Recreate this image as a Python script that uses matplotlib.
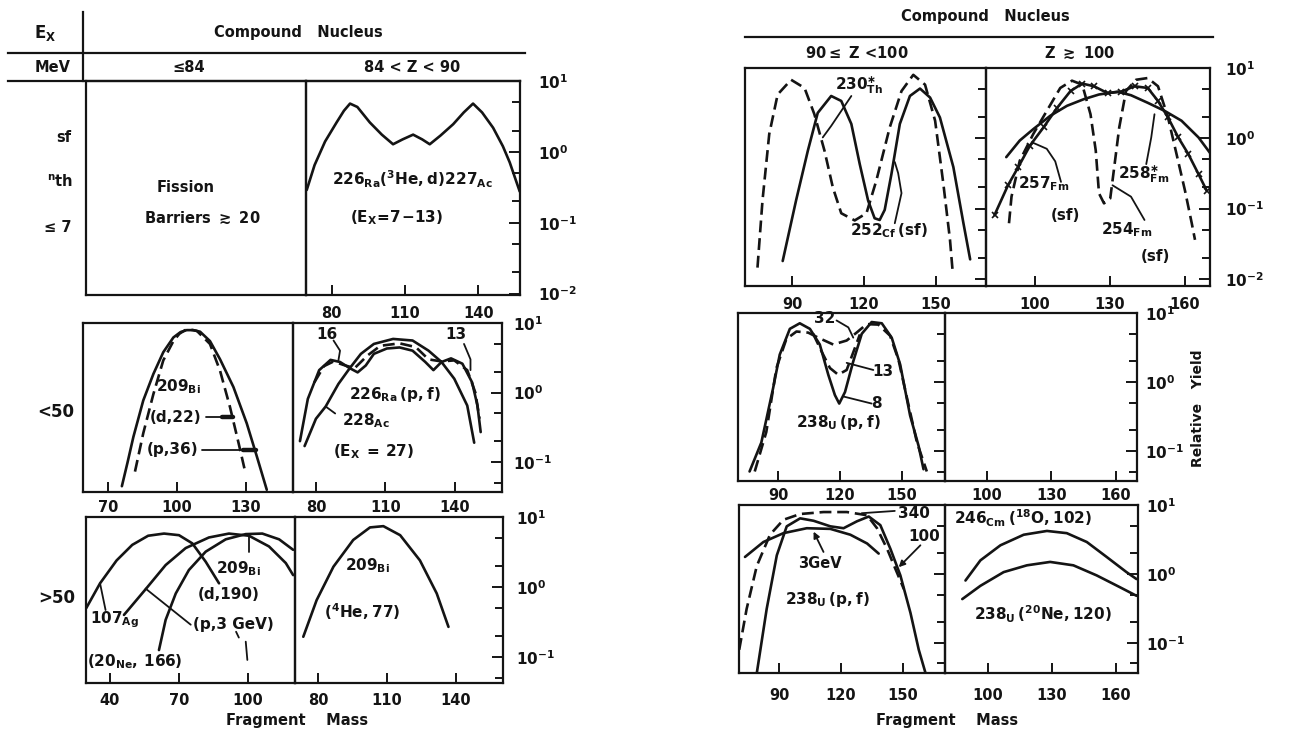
import matplotlib
matplotlib.use("Agg")
import numpy as np
import matplotlib.pyplot as plt
from matplotlib.lines import Line2D
from matplotlib.ticker import (FixedLocator, LogLocator, FuncFormatter,
                               NullFormatter, NullLocator)

# ---------------------------------------------------------------- data
# Compound nucleus 84 < Z < 90, E_X <= 7 : 226Ra(3He,d)227Ac
ra226_he3d_mass = [69.8, 73.0, 77.3, 82.0, 85.0, 87.5, 90.5, 95.6, 100.5, 105.1, 109.0, 113.3,
                   117.0, 120.1, 124.5, 129.7, 134.0, 137.8, 141.5, 146.0, 150.0, 152.8, 156.9]
ra226_he3d_yield = [0.29, 0.65, 1.4, 2.6, 3.8, 4.8, 4.3, 2.6, 1.75, 1.28, 1.5, 1.75,
                    1.5, 1.28, 1.7, 2.46, 3.6, 4.8, 3.6, 2.19, 1.2, 0.71, 0.275]

# Z <= 84, E_X < 50 : 209Bi(p,36) solid, 209Bi(d,22) dashed
bi209_p36_mass = [76.0, 78.5, 81.0, 85.3, 89.7, 94.0, 98.4, 101.5, 104.2, 107.0, 110.0, 114.3,
                  118.7, 124.5, 130.3, 134.7, 139.0]
bi209_p36_yield = [0.045, 0.10, 0.23, 0.77, 1.85, 3.8, 6.2, 7.4, 7.9, 7.9, 7.5, 5.5,
                   3.0, 1.2, 0.36, 0.12, 0.04]
bi209_d22_mass = [81.7, 85.3, 89.7, 94.0, 98.4, 101.0, 103.5, 106.0, 108.6, 114.3, 118.7,
                  123.0, 126.7, 129.6]
bi209_d22_yield = [0.073, 0.26, 0.95, 2.9, 5.5, 7.0, 7.9, 8.0, 7.7, 5.0, 2.05,
                   0.62, 0.19, 0.073]

# 84 < Z < 90, E_X < 50 : 228Ac (E_X = 27) and 226Ra(p,f)
ac228_mass = [75.1, 80.0, 84.2, 89.7, 94.6, 99.4, 105.0, 113.3, 121.7, 128.6, 134.2, 139.7,
              145.3, 148.3]
ac228_yield = [0.17, 0.42, 0.63, 1.33, 2.24, 3.6, 5.0, 5.9, 5.6, 4.0, 2.75, 1.58, 0.65, 0.19]
ra226_pf_mass = [73.1, 76.5, 81.4, 86.3, 90.4, 94.6, 98.0, 101.5, 105.0, 110.6, 116.1, 121.7,
                 127.2, 130.7, 134.2, 138.3, 143.2, 147.4, 149.7, 151.1]
ra226_pf_yield = [0.20, 0.81, 2.1, 2.95, 2.75, 2.24, 1.95, 2.45, 3.6, 4.3, 4.45, 4.0,
                  2.75, 2.1, 2.75, 3.1, 2.6, 1.4, 0.65, 0.27]
ra226_pf_b_mass = [79.3, 83.5, 87.6, 91.8, 96.7, 102.2, 107.8, 116.1, 123.1, 128.6, 134.2,
                   139.7, 145.3, 148.8, 150.6]
ra226_pf_b_yield = [1.4, 2.4, 2.8, 2.5, 2.24, 3.4, 4.7, 5.1, 4.5, 3.0, 2.8,
                    2.9, 2.1, 1.0, 0.42]

# Z <= 84, E_X > 50 : 107Ag(20Ne,166), 209Bi(p,3 GeV), 209Bi(d,190)
ag107_mass = [29.7, 35.7, 42.9, 49.7, 56.6, 63.5, 70.0, 75.8, 81.6, 87.4]
ag107_yield = [0.50, 1.13, 2.4, 4.0, 5.4, 5.8, 5.5, 4.2, 2.3, 1.13]
bi209_p3gev_mass = [46.1, 55.5, 64.2, 72.9, 83.0, 91.7, 100.4, 109.1, 116.4, 119.6]
bi209_p3gev_yield = [0.40, 0.93, 2.06, 3.6, 5.1, 5.8, 5.4, 3.8, 2.2, 1.48]
bi209_d190_mass = [61.3, 64.2, 68.6, 74.3, 81.6, 90.3, 99.0, 106.2, 113.5, 119.6]
bi209_d190_yield = [0.126, 0.34, 0.81, 1.75, 3.2, 4.8, 5.7, 5.8, 4.8, 3.4]

# 84 < Z < 90, E_X > 50 : 209Bi(4He,77)
bi209_he77_mass = [73.6, 79.4, 86.7, 95.3, 102.6, 108.4, 115.7, 124.3, 131.6, 136.7]
bi209_he77_yield = [0.195, 0.65, 1.95, 4.7, 7.1, 7.4, 5.5, 2.4, 0.81, 0.27]

# 90 <= Z < 100, low E_X : 230Th* (dashed), 252Cf(sf) (solid)
th230_mass = [75.6, 77.7, 80.5, 84.0, 89.6, 95.2, 99.3, 103.5, 107.0, 110.5, 116.1, 121.0,
              125.1, 130.7, 135.6, 140.5, 145.4, 149.6, 153.0, 155.8, 157.0]
th230_yield = [0.0145, 0.132, 1.15, 4.2, 6.8, 5.2, 2.2, 0.67, 0.20, 0.086, 0.068, 0.086,
               0.25, 1.43, 4.7, 8.0, 5.8, 1.78, 0.23, 0.036, 0.0117]
cf252_mass = [86.1, 91.7, 96.6, 100.7, 106.3, 110.5, 114.7, 118.2, 121.7, 124.4, 126.5, 128.6,
              131.4, 134.9, 139.1, 143.3, 147.5, 151.6, 157.2, 161.4, 164.2]
cf252_yield = [0.018, 0.132, 0.67, 2.3, 4.0, 3.4, 1.6, 0.43, 0.13, 0.073, 0.069, 0.096,
               0.31, 1.6, 4.0, 5.1, 3.8, 1.98, 0.39, 0.062, 0.019]

# Z >= 100, low E_X : 257Fm(sf) (crossed), 258Fm* (solid), 254Fm(sf) (dashed)
fm257_mass = [83.8, 89.2, 93.3, 98.0, 103.4, 108.8, 114.2, 118.9, 123.6, 129.0, 134.4, 139.8,
              145.1, 149.2, 153.2, 157.3, 161.3, 165.4, 168.7]
fm257_yield = [0.081, 0.215, 0.39, 0.79, 1.43, 2.7, 4.7, 6.0, 5.5, 4.4, 4.6, 5.5,
               5.2, 3.4, 1.98, 1.03, 0.60, 0.31, 0.18]
fm258_mass = [88.5, 93.9, 99.3, 106.1, 112.8, 119.5, 125.6, 133.0, 138.4, 145.1, 151.9, 158.6,
              165.4, 170.0]
fm258_yield = [0.54, 0.93, 1.35, 2.09, 2.9, 3.6, 4.2, 4.6, 4.1, 3.2, 2.45, 1.78, 1.03, 0.62]
fm254_mass = [89.6, 90.6, 93.9, 99.3, 104.7, 110.1, 114.8, 118.9, 122.2, 124.3, 125.6, 127.6,
              130.1, 131.7, 133.7, 136.4, 140.4, 145.1, 149.2, 153.2, 156.6, 160.0, 162.7, 164.0]
fm254_yield = [0.062, 0.148, 0.48, 1.15, 2.45, 5.2, 6.6, 5.8, 2.2, 0.67, 0.165, 0.119,
               0.14, 0.39, 1.43, 4.7, 6.8, 7.2, 5.5, 1.98, 0.60, 0.18, 0.062, 0.036]

# 90 <= Z < 100, E_X < 50 : 238U(p,f) at 8, 13 and 32 MeV
u238_p8_mass = [76.2, 81.9, 87.6, 90.8, 95.7, 100.5, 105.4, 110.2, 114.3, 117.5, 119.6, 122.4,
                126.4, 130.5, 135.3, 140.2, 145.0, 149.1, 153.9, 158.0, 160.4]
u238_p8_yield = [0.051, 0.134, 0.82, 2.5, 5.9, 7.1, 5.9, 3.5, 1.28, 0.65, 0.49, 0.72,
                 2.0, 5.0, 7.4, 7.1, 4.4, 1.8, 0.33, 0.12, 0.055]
u238_p13_mass = [107.0, 111.0, 115.1, 119.1, 123.2, 126.4, 129.6]
u238_p13_yield = [5.0, 2.8, 1.6, 1.28, 1.5, 2.7, 4.9]
u238_p32_mass = [78.7, 84.3, 89.2, 94.0, 98.9, 104.6, 109.4, 116.7, 123.2, 128.0, 132.9, 138.5,
                 144.2, 148.3, 153.2, 157.2, 162.0]
u238_p32_yield = [0.051, 0.19, 1.6, 4.2, 5.4, 5.2, 4.4, 3.5, 4.0, 5.2, 6.9, 6.8,
                  4.7, 2.1, 0.46, 0.135, 0.051]

# 90 <= Z < 100, E_X > 50 : 238U(p,f) at 100 MeV, 340 MeV and 3 GeV
u238_p100_mass = [79.2, 84.0, 88.9, 93.7, 100.2, 106.7, 114.8, 121.2, 127.7, 133.4, 139.0,
                  143.9, 148.7, 153.6, 157.6, 160.9]
u238_p100_yield = [0.036, 0.31, 1.86, 4.9, 6.4, 5.9, 4.9, 4.6, 5.8, 6.8, 5.1,
                   2.3, 0.95, 0.27, 0.079, 0.036]
u238_p340_mass = [70.7, 74.3, 79.2, 85.6, 92.1, 100.2, 111.5, 122.8, 132.6, 137.4, 142.3,
                  146.3, 150.4]
u238_p340_yield = [0.079, 0.31, 1.3, 3.7, 6.1, 7.4, 7.9, 7.9, 7.1, 4.6, 2.3, 1.18, 0.60]
u238_p3gev_mass = [73.5, 82.4, 92.1, 103.4, 114.8, 124.5, 132.6, 138.2]
u238_p3gev_yield = [1.76, 2.9, 3.9, 4.6, 4.5, 3.7, 2.76, 1.97]

# Z >= 100, E_X > 50 : 246Cm(18O,102) and 238U(20Ne,120)
cm246_o18_mass = [89.4, 96.4, 105.8, 116.7, 127.6, 136.9, 146.3, 155.6, 164.9, 169.6]
cm246_o18_yield = [0.80, 1.57, 2.6, 3.7, 4.2, 3.9, 2.9, 1.76, 1.06, 0.84]
u238_ne20_mass = [87.9, 96.4, 107.3, 118.2, 129.1, 140.0, 150.9, 161.8, 169.6]
u238_ne20_yield = [0.43, 0.67, 1.06, 1.33, 1.49, 1.33, 0.95, 0.64, 0.48]

# ---------------------------------------------------------------- style
INK = "#141414"
plt.rcParams.update({
    "font.family": "DejaVu Sans",
    "font.weight": "bold",
    "font.size": 10,
    "mathtext.fontset": "custom",
    "mathtext.rm": "DejaVu Sans:bold",
    "mathtext.it": "DejaVu Sans:bold",
    "mathtext.bf": "DejaVu Sans:bold",
    "mathtext.sf": "DejaVu Sans:bold",
    "axes.linewidth": 1.6,
})

W, H = 1297, 730
fig = plt.figure(figsize=(W / 100, H / 100), dpi=100)
fig.patch.set_facecolor("white")


def box_frac(x0, y0, x1, y1):
    return [x0 / W, 1 - y1 / H, (x1 - x0) / W, (y1 - y0) / H]


def decade_label(v, _pos):
    return r"$10^{%d}$" % int(round(np.log10(v)))


def make_panel(box, xlim=(0, 1), ybot=-2, xticks=None, xpad=6, yaxis="none", ypad=10):
    ax = fig.add_axes(box_frac(*box))
    ax.set_yscale("log")
    ax.set_xlim(*xlim)
    ax.set_ylim(10 ** ybot, 10)
    ax.set_facecolor("none")
    for s in ax.spines.values():
        s.set_linewidth(1.6)
        s.set_color(INK)
    if xticks:
        ax.xaxis.set_major_locator(FixedLocator(xticks))
        ax.tick_params(axis="x", which="major", direction="in", length=7, width=1.4,
                       pad=xpad, labelsize=10.5, colors=INK, top=False)
    else:
        ax.set_xticks([])
    ax.xaxis.set_minor_locator(NullLocator())
    if yaxis == "none":
        ax.tick_params(axis="y", which="both", left=False, right=False,
                       labelleft=False, labelright=False)
    else:
        ax.yaxis.set_major_locator(LogLocator(base=10, numticks=10))
        ax.yaxis.set_minor_locator(LogLocator(base=10, subs=(2.0, 5.0), numticks=10))
        ax.yaxis.set_major_formatter(FuncFormatter(decade_label))
        ax.yaxis.set_minor_formatter(NullFormatter())
        ax.tick_params(axis="y", which="both", direction="in", left=False, right=True,
                       labelleft=False, labelright=(yaxis == "labels"), colors=INK)
        ax.tick_params(axis="y", which="major", length=8, width=1.4, pad=ypad, labelsize=11)
        ax.tick_params(axis="y", which="minor", length=5.5, width=1.4)
    return ax


def curve(ax, mass, yld, dashed=False, **kw):
    ls = (0, (4.5, 2.2)) if dashed else "-"
    ax.plot(mass, yld, color=INK, lw=1.9, linestyle=ls, solid_joinstyle="round",
            solid_capstyle="round", **kw)


def lead(ax, xs, ys, lw=1.3):
    ax.plot(xs, ys, color=INK, lw=lw, solid_capstyle="round", solid_joinstyle="round")


def arrow(ax, start, end):
    ax.annotate("", xy=end, xytext=start,
                arrowprops=dict(arrowstyle="-|>", lw=1.3, color=INK, mutation_scale=9,
                                shrinkA=0, shrinkB=0))


def tag(ax, x, y, s, size=10.5, ha="center", va="center"):
    ax.text(x, y, s, fontsize=size, ha=ha, va=va, color=INK, fontweight="bold")


def ftext(x, y, s, size=10.5, ha="center", va="center", **kw):
    fig.text(x / W, 1 - y / H, s, fontsize=size, ha=ha, va=va, color=INK,
             fontweight="bold", **kw)


def fline(x0, y0, x1, y1, lw=1.6):
    fig.add_artist(Line2D([x0 / W, x1 / W], [1 - y0 / H, 1 - y1 / H], color=INK, lw=lw))


# ================================================================ left block
fline(8, 53, 525, 53)
fline(8, 81, 520, 81)
fline(83, 12, 83, 81)
ftext(45, 33, r"$E_{X}$", size=12)
ftext(298, 33, "Compound   Nucleus")
ftext(53, 68, "MeV")
ftext(189, 68, "≤84")
ftext(412, 68, "84 < Z < 90")

ftext(64, 137, "sf")
ftext(60, 182, r"$^{n}$th")
ftext(58, 227, "≤ 7")
ftext(56, 412, "<50", size=12)
ftext(57, 598, ">50", size=12)
ftext(297, 720, "Fragment    Mass")

# row 1 : fission barriers / 226Ra(3He,d)
ax = make_panel((86, 81, 306, 295))
ftext(186, 187, "Fission")
ftext(202, 218, r"Barriers $\gtrsim$ 20")

ax = make_panel((306, 81, 520, 295), (69.5, 157), -2.02, [80, 110, 140], xpad=8,
                yaxis="labels", ypad=13)
curve(ax, ra226_he3d_mass, ra226_he3d_yield)
tag(ax, 113, 0.41, r"$226_{Ra}(^{3}He,d)227_{Ac}$", size=11)
tag(ax, 106.4, 0.118, r"$(E_{X}\!=\!7\!-\!13)$", size=11)

# row 2 : 209Bi and 226Ra(p,f)
ax = make_panel((83, 323, 293, 492), (59.1, 150.4), -1.43, [70, 100, 130], xpad=5.5)
curve(ax, bi209_p36_mass, bi209_p36_yield)
curve(ax, bi209_d22_mass, bi209_d22_yield, dashed=True)
tag(ax, 91, 1.2, r"$209_{Bi}$", size=11, ha="left")
tag(ax, 88.3, 0.44, "(d,22)", size=11, ha="left")
tag(ax, 86.8, 0.15, "(p,36)", size=11, ha="left")
lead(ax, [112.5, 124.1], [0.44, 0.44])
lead(ax, [119.5, 124.1], [0.44, 0.44], lw=3.2)
lead(ax, [111.0, 134.3], [0.15, 0.15])
lead(ax, [128.5, 134.3], [0.15, 0.15], lw=3.2)

ax = make_panel((293, 323, 502, 492), (70.1, 160.3), -1.43, [80, 110, 140], xpad=5.5,
                yaxis="labels", ypad=8)
curve(ax, ac228_mass, ac228_yield)
curve(ax, ra226_pf_mass, ra226_pf_yield)
curve(ax, ra226_pf_b_mass, ra226_pf_b_yield, dashed=True)
tag(ax, 84.8, 6.8, "16", size=11)
tag(ax, 140.4, 6.8, "13", size=11)
lead(ax, [87.6, 90.4, 89.7], [5.6, 4.0, 2.9])
lead(ax, [143.9, 146.7, 146.7], [5.0, 3.0, 2.1])
tag(ax, 114, 0.95, r"$226_{Ra}\,(p,f)$", size=11)
tag(ax, 101.5, 0.40, r"$228_{Ac}$", size=11)
lead(ax, [88.3, 84.2], [0.50, 0.63])
tag(ax, 105, 0.14, r"$(E_{X}\;=\,27)$", size=11)

# row 3 : 107Ag, 209Bi
ax = make_panel((86, 517, 295, 683), (29.6, 120.4), -1.37, [40, 70, 100], xpad=7)
curve(ax, ag107_mass, ag107_yield)
curve(ax, bi209_p3gev_mass, bi209_p3gev_yield)
curve(ax, bi209_d190_mass, bi209_d190_yield)
tag(ax, 31.5, 0.34, r"$107_{Ag}$", size=11, ha="left")
tag(ax, 30.1, 0.085, r"$(20_{Ne},\,166)$", size=11, ha="left")
lead(ax, [38.1, 35.7], [0.47, 1.13])
tag(ax, 86, 1.85, r"$209_{Bi}$", size=11, ha="left")
lead(ax, [100.4, 100.4], [5.8, 3.2])
tag(ax, 91.7, 0.77, "(d,190)", size=11)
tag(ax, 93.5, 0.29, "(p,3 GeV)", size=11)
lead(ax, [75.1, 55.5], [0.29, 0.95])
lead(ax, [94.8, 96.0], [0.23, 0.19])
lead(ax, [99.0, 99.7], [0.166, 0.091])

ax = make_panel((295, 517, 503, 683), (70, 160.4), -1.37, [80, 110, 140], xpad=7,
                yaxis="labels", ypad=9)
curve(ax, bi209_he77_mass, bi209_he77_yield)
tag(ax, 101.7, 2.05, r"$209_{Bi}$", size=11)
tag(ax, 99.1, 0.44, r"$(^{4}He,77)$", size=11)

# ================================================================ right block
ftext(985, 16, "Compound   Nucleus")
fline(745, 37, 1213, 37)
ftext(857, 53, r"90$\leq$ Z <100")
ftext(1079, 53, r"Z $\gtrsim$ 100")
ftext(1198, 408, "Relative   Yield", size=10, rotation=90)
ftext(947, 720, "Fragment    Mass")

# row 1 : 230Th*, 252Cf(sf) / Fm isotopes
ax = make_panel((745, 68, 986, 286), (70.4, 170.8), -2.1, [90, 120, 150], xpad=8,
                yaxis="ticks")
curve(ax, th230_mass, th230_yield, dashed=True)
curve(ax, cf252_mass, cf252_yield)
tag(ax, 107.7, 5.8, r"$230_{Th}^{\ast}$", size=11, ha="left")
lead(ax, [114.7, 106.3, 102.8], [4.0, 1.5, 1.03])
tag(ax, 114, 0.048, r"$252_{Cf}\,(sf)$", size=11, ha="left")
lead(ax, [132.8, 135.6, 134.2, 132.8], [0.062, 0.166, 0.32, 0.46])

ax = make_panel((986, 68, 1210, 286), (80.4, 170), -2.1, [100, 130, 160], xpad=8,
                yaxis="labels", ypad=11)
curve(ax, fm258_mass, fm258_yield)
curve(ax, fm257_mass, fm257_yield, marker="x", ms=4.5, mew=1.2)
curve(ax, fm254_mass, fm254_yield, dashed=True)
tag(ax, 93.3, 0.23, r"$257_{Fm}$", size=11, ha="left")
tag(ax, 112.1, 0.081, "(sf)", size=11)
lead(ax, [98.7, 104.7, 108.1, 110.4], [0.88, 0.71, 0.47, 0.24])
tag(ax, 126.3, 0.050, r"$254_{Fm}$", size=11, ha="left")
tag(ax, 148.1, 0.021, "(sf)", size=11)
lead(ax, [131.0, 138.4, 143.8], [0.215, 0.148, 0.069])
tag(ax, 133, 0.31, r"$258_{Fm}^{\ast}$", size=11, ha="left")
lead(ax, [144.5, 146.5, 147.8], [0.43, 1.03, 2.2])

# row 2 : 238U(p,f) / empty
ax = make_panel((738, 313, 945, 481), (70.6, 170.8), -1.43, [90, 120, 150], xpad=5,
                yaxis="ticks")
curve(ax, u238_p8_mass, u238_p8_yield)
curve(ax, u238_p32_mass, u238_p32_yield, dashed=True)
curve(ax, u238_p13_mass, u238_p13_yield, dashed=True)
tag(ax, 112.7, 8.3, "32", size=11)
lead(ax, [118.3, 124.0, 126.4], [7.8, 6.2, 4.4])
tag(ax, 140.6, 1.44, "13", size=11)
lead(ax, [136.1, 123.2], [1.5, 1.9])
tag(ax, 137.5, 0.49, "8", size=11)
lead(ax, [135.3, 121.6], [0.49, 0.62])
tag(ax, 98.9, 0.26, r"$238_{U}\,(p,f)$", size=11, ha="left")

ax = make_panel((945, 313, 1137, 481), (80.5, 169.8), -1.43, [100, 130, 160], xpad=5,
                yaxis="labels", ypad=6)

# row 3 : 238U(p,f) high energy / heavy ions
ax = make_panel((739, 505, 945, 673), (70.6, 170.3), -1.44, [90, 120, 150], xpad=11,
                yaxis="ticks")
curve(ax, u238_p3gev_mass, u238_p3gev_yield)
curve(ax, u238_p100_mass, u238_p100_yield)
curve(ax, u238_p340_mass, u238_p340_yield, dashed=True)
tag(ax, 155.5, 7.6, "340", size=11)
lead(ax, [146.0, 130.0], [8.2, 7.6])
tag(ax, 160, 3.5, "100", size=11)
arrow(ax, (158.4, 2.6), (147.9, 1.25))
tag(ax, 109.9, 1.4, "3GeV", size=10.5)
arrow(ax, (111.5, 2.08), (106.7, 4.1))
tag(ax, 92.9, 0.43, r"$238_{U}\,(p,f)$", size=11, ha="left")

ax = make_panel((945, 505, 1138, 673), (79.8, 170.3), -1.44, [100, 130, 160], xpad=11,
                yaxis="labels", ypad=6)
curve(ax, cm246_o18_mass, cm246_o18_yield)
curve(ax, u238_ne20_mass, u238_ne20_yield)
tag(ax, 84, 6.4, r"$246_{Cm}\,(^{18}O,102)$", size=11, ha="left")
tag(ax, 93.3, 0.26, r"$238_{U}\,(^{20}Ne,120)$", size=11, ha="left")

fig.savefig("out.png", dpi=100, facecolor="white")
